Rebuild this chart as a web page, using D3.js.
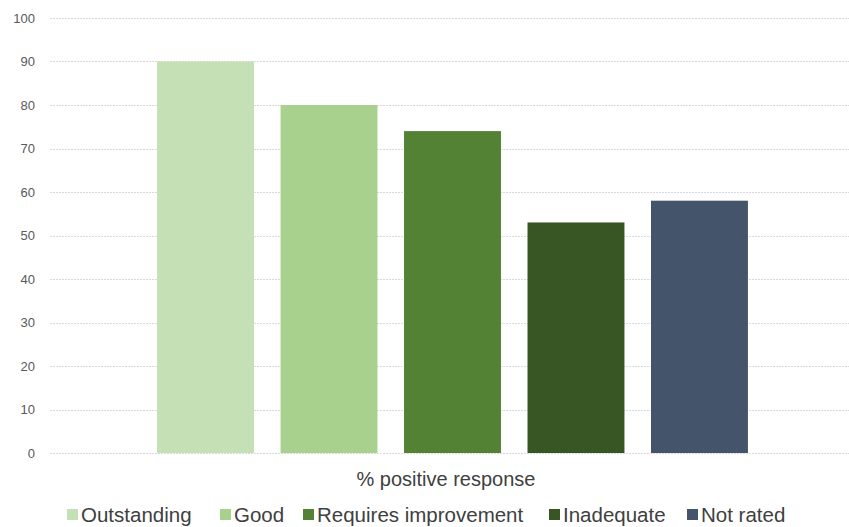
<!DOCTYPE html>
<html>
<head>
<meta charset="utf-8">
<script src="https://cdn.jsdelivr.net/npm/d3@7"></script>
<style>
  body { margin: 0; background: #fff; }
  svg { display: block; font-family: 'Liberation Sans', Arial, sans-serif; }
</style>
</head>
<body>
<div id="wrapper"></div>
<script>
// data
const categories = ['Outstanding', 'Good', 'Requires improvement', 'Inadequate', 'Not rated']
const values = [90, 80, 74, 53, 58]
const colors = ['#c5e0b4', '#a9d18e', '#548235', '#375623', '#44546a']
const yTicks = [0, 10, 20, 30, 40, 50, 60, 70, 80, 90, 100]
const axisTitle = '% positive response'

function drawChart() {
  const width = 849
  const height = 527
  const margin = { top: 18, right: -6, bottom: 74, left: 50 }
  const boundedWidth = width - margin.left - margin.right
  const boundedHeight = height - margin.top - margin.bottom

  const svg = d3.select('#wrapper')
    .append('svg')
    .attr('width', width)
    .attr('height', height)

  const bounds = svg.append('g')
    .attr('transform', `translate(${margin.left},${margin.top})`)

  // scales
  const yScale = d3.scaleLinear()
    .domain([0, 100])
    .range([boundedHeight, 0])

  const xScale = d3.scaleBand()
    .domain(categories)
    .range([0, boundedWidth])
    .paddingInner(0.215)
    .paddingOuter(0.867)

  // gridlines
  bounds.append('g')
    .selectAll('line')
    .data(yTicks)
    .join('line')
    .attr('x1', 0)
    .attr('x2', boundedWidth)
    .attr('y1', d => Math.round(yScale(d)) + 0.5)
    .attr('y2', d => Math.round(yScale(d)) + 0.5)
    .attr('stroke', '#d9d9d9')
    .attr('stroke-width', 1)
    .attr('stroke-dasharray', '2,1')

  // y axis labels
  const yAxis = bounds.append('g')
    .call(d3.axisLeft(yScale).tickValues(yTicks).tickSize(0).tickPadding(15))
  yAxis.select('.domain').remove()
  yAxis.selectAll('text')
    .attr('fill', '#595959')
    .style('font-size', '13px')
    .style('font-family', "'Liberation Sans', Arial, sans-serif")

  // bars
  bounds.append('g')
    .selectAll('rect')
    .data(categories)
    .join('rect')
    .attr('x', d => xScale(d))
    .attr('y', (d, i) => yScale(values[i]))
    .attr('width', xScale.bandwidth())
    .attr('height', (d, i) => yScale(0) - yScale(values[i]))
    .attr('fill', (d, i) => colors[i])

  // axis title
  svg.append('text')
    .attr('x', 446)
    .attr('y', 486)
    .attr('text-anchor', 'middle')
    .attr('fill', '#404040')
    .style('font-size', '20px')
    .text(axisTitle)

  // legend
  const legendX = [67, 220, 303, 549, 687]
  const legend = svg.append('g')
  const items = legend.selectAll('g')
    .data(categories)
    .join('g')
    .attr('transform', (d, i) => `translate(${legendX[i]},0)`)
  items.append('rect')
    .attr('x', 0)
    .attr('y', 509)
    .attr('width', 11)
    .attr('height', 11)
    .attr('fill', (d, i) => colors[i])
  items.append('text')
    .attr('x', 14)
    .attr('y', 522)
    .attr('fill', '#404040')
    .style('font-size', '20.5px')
    .text(d => d)
}

drawChart()
</script>
</body>
</html>
